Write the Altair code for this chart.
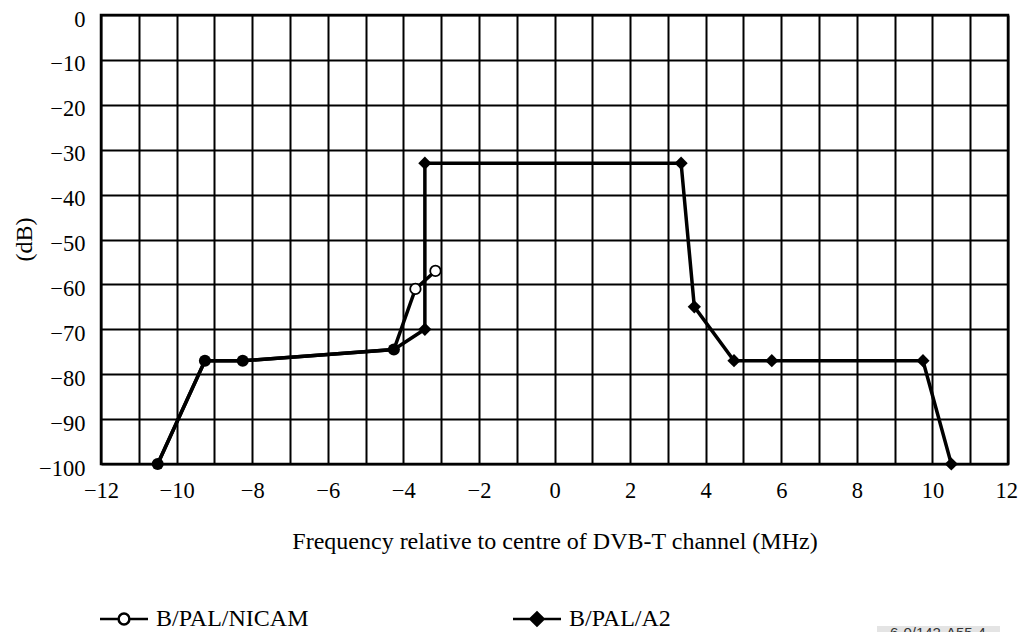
import altair as alt
import pandas as pd

# ---- data ----
series_names = ["B/PAL/NICAM", "B/PAL/A2"]
nicam_x = [-10.5, -9.25, -8.25, -4.25, -3.68, -3.15]
nicam_db = [-100, -77, -77, -74.5, -61, -57]
a2_x = [-10.5, -9.25, -8.25, -4.25, -3.43, -3.43, 3.35, 3.7, 4.75, 5.75, 9.75, 10.5]
a2_db = [-100, -77, -77, -74.5, -70, -33, -33, -65, -77, -77, -77, -100]
x_ticks = list(range(-12, 13))
y_ticks = list(range(-100, 1, 10))
x_title = "Frequency relative to centre of DVB-T channel (MHz)"
y_title = "(dB)"
fig_label = "6-0/142-A55-4"

rows = []
for i, (x, y) in enumerate(zip(nicam_x, nicam_db)):
    rows.append({"series": series_names[0], "order": i, "freq": x, "db": y})
for i, (x, y) in enumerate(zip(a2_x, a2_db)):
    rows.append({"series": series_names[1], "order": i, "freq": x, "db": y})
df = pd.DataFrame(rows)
a2_pts = set(zip(a2_x, a2_db))
nicam_pts = set(zip(nicam_x, nicam_db))
df["shared"] = [(f, d) in a2_pts and (f, d) in nicam_pts for f, d in zip(df.freq, df.db)]

FONT = "Liberation Serif"
TICK_FS = 22.5
TITLE_FS = 24
LEG_FS = 24
last_x = x_ticks[-1]

x_enc = alt.X(
    "freq:Q",
    scale=alt.Scale(domain=[-12, 12], nice=False, zero=False),
    axis=alt.Axis(
        values=x_ticks,
        labelExpr="datum.value % 2 == 0 ? datum.label : ''",
        labelAlign=alt.ConditionalAxisLabelAlign(
            condition={"test": f"datum.value == {last_x}", "value": "right"}, value="center"
        ),
        labelOffset=alt.ConditionalAxisNumber(
            condition={"test": f"datum.value == {last_x}", "value": 9.5}, value=0
        ),
        title=x_title,
        titleY=84,
        titleBaseline="alphabetic",
        labelPadding=15,
        labelFlush=False,
        labelOverlap=False,
    ),
)
y_enc = alt.Y(
    "db:Q",
    scale=alt.Scale(domain=[-100, 0], nice=False, zero=False),
    axis=alt.Axis(
        values=y_ticks,
        title=y_title,
        titleX=-77,
        titleY=224,
        titleAngle=-90,
        titleBaseline="middle",
        labelPadding=16,
        labelOffset=4,
        labelOverlap=False,
    ),
)

lines = alt.Chart(df).mark_line(color="black", strokeWidth=3.5).encode(
    x=x_enc, y=y_enc, detail="series:N", order="order:Q"
)

diamonds = (
    alt.Chart(df)
    .transform_filter(f"datum.series == '{series_names[1]}' && !datum.shared")
    .mark_point(shape="diamond", filled=True, color="black", size=175, opacity=1)
    .encode(x=x_enc, y=y_enc)
)

shared_dots = (
    alt.Chart(df)
    .transform_filter(f"datum.series == '{series_names[0]}' && datum.shared")
    .mark_point(shape="circle", filled=True, color="black", size=145, opacity=1)
    .encode(x=x_enc, y=y_enc)
)

open_dots = (
    alt.Chart(df)
    .transform_filter(f"datum.series == '{series_names[0]}' && !datum.shared")
    .mark_point(shape="circle", fill="white", stroke="black", strokeWidth=1.8, size=110, opacity=1)
    .encode(x=x_enc, y=y_enc)
)

nicam_sym = "M-4,0H-0.9M0.9,0H4M0.9,0A0.9,0.9,0,1,1,-0.9,0A0.9,0.9,0,1,1,0.9,0Z"
a2_sym = "M-4,0H4M-1.1,0L0,-1.1L1.1,0L0,1.1Z"

leg = alt.Legend(
    orient="none",
    legendX=11,
    legendY=592,
    direction="horizontal",
    title=None,
    padding=0,
    labelFont=FONT,
    labelFontSize=LEG_FS,
    labelColor="black",
    labelOffset=20,
    columnPadding=199,
    symbolSize=144,
    symbolStrokeColor="black",
    symbolStrokeWidth=2.5,
    symbolOpacity=1,
    labelLimit=400,
)

legend_layer = (
    alt.Chart(df)
    .transform_filter("false")
    .mark_point(stroke="black", strokeWidth=2.5, opacity=1)
    .encode(
        x=x_enc,
        y=y_enc,
        shape=alt.Shape("series:N", scale=alt.Scale(domain=series_names, range=[nicam_sym, a2_sym]), legend=leg),
        fill=alt.Fill("series:N", scale=alt.Scale(domain=series_names, range=["white", "black"]), legend=leg),
        stroke=alt.Stroke("series:N", scale=alt.Scale(domain=series_names, range=["black", "black"]), legend=leg),
    )
)

lab_df = pd.DataFrame({"label": [fig_label]})
label_box = alt.Chart(lab_df).mark_rect(color="#e4e4e4").encode(
    x=alt.value(776), x2=alt.value(899), y=alt.value(611), y2=alt.value(640)
)
label_text = alt.Chart(lab_df).mark_text(
    font="Liberation Sans", fontSize=15, color="#333333", baseline="top", align="center"
).encode(x=alt.value(837), y=alt.value(611), text="label:N")

chart = (
    alt.layer(lines, diamonds, shared_dots, open_dots, legend_layer, label_box, label_text)
    .properties(
        width=907,
        height=449,
        autosize=alt.AutoSizeParams(type="none"),
        padding={"left": 93, "top": 7, "right": 10, "bottom": 168},
    )
    .configure_view(stroke="black", strokeWidth=2.5)
    .configure_axis(
        grid=True,
        gridColor="black",
        gridWidth=2,
        gridOpacity=1,
        domain=False,
        ticks=False,
        labelFont=FONT,
        labelFontSize=TICK_FS,
        labelColor="black",
        titleFont=FONT,
        titleFontSize=TITLE_FS,
        titleFontWeight="normal",
        titleColor="black",
    )
)

chart.save("out.html", embed_options={"renderer": "svg", "actions": False})
